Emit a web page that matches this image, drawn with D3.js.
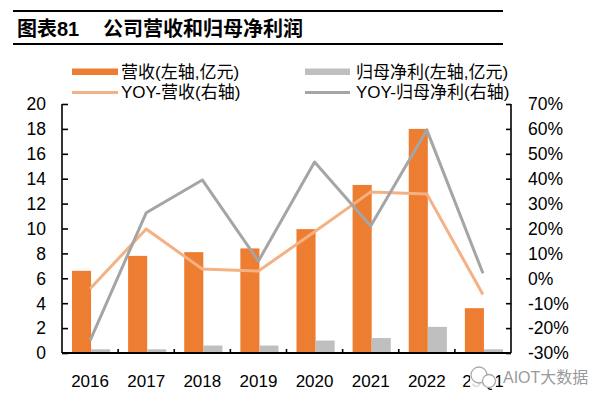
<!DOCTYPE html>
<html><head><meta charset="utf-8">
<script src="https://cdn.jsdelivr.net/npm/d3@7"></script>
<style>
html,body{margin:0;padding:0;background:#fff;}
svg{display:block;font-family:"Liberation Sans",Arial,"Noto Sans CJK SC",sans-serif;}
</style></head>
<body>
<svg id="c" width="601" height="403"></svg>
<script>
const categories = ['2016','2017','2018','2019','2020','2021','2022','23Q1'];
const revenue = [6.6, 7.8, 8.1, 8.4, 9.95, 13.5, 18.0, 3.6];
const netProfit = [0.3, 0.3, 0.6, 0.6, 1.0, 1.2, 2.1, 0.3];
const revenueYoy = [-4.2, 19.8, 3.7, 2.9, 18.7, 34.7, 33.9, -6.5];
const profitYoy = [-25.0, 26.3, 39.5, 6.9, 46.7, 21.0, 59.6, 2.0];
const leftTicks = [0,2,4,6,8,10,12,14,16,18,20];
const rightTicks = [-30,-20,-10,0,10,20,30,40,50,60,70];
const seriesNames = ['营收(左轴,亿元)','归母净利(左轴,亿元)','YOY-营收(右轴)','YOY-归母净利(右轴)'];
const colors = {rev:'#ED7D31', np:'#BFBFBF', revY:'#F4B183', npY:'#A5A5A5'};

const svg = d3.select('#c');
const L=62, R=511, T=104, B=353;
const x = d3.scaleBand().domain(categories).range([L,R]).padding(0);
const yL = d3.scaleLinear().domain([0,20]).range([B,T]);
const yR = d3.scaleLinear().domain([-30,70]).range([B,T]);
const cx = c => x(c) + x.bandwidth()/2;
const barW = x.bandwidth()*0.34;

// title
svg.append('line').attr('x1',13).attr('x2',503).attr('y1',11).attr('y2',11).attr('stroke','#000').attr('stroke-width',2.2);
svg.append('line').attr('x1',13).attr('x2',503).attr('y1',44).attr('y2',44).attr('stroke','#000').attr('stroke-width',2.2);
svg.append('text').attr('x',17).attr('y',36).attr('font-size',20).attr('font-weight','bold').text('图表81');
svg.append('text').attr('x',103).attr('y',36).attr('font-size',20).attr('font-weight','bold').text('公司营收和归母净利润');

// bars
svg.selectAll('.rev').data(categories).enter().append('rect')
  .attr('x',(c)=>cx(c)-barW+1).attr('width',barW)
  .attr('y',(c,i)=>yL(revenue[i])).attr('height',(c,i)=>yL(0)-yL(revenue[i]))
  .attr('fill',colors.rev);
svg.selectAll('.np').data(categories).enter().append('rect')
  .attr('x',(c)=>cx(c)+1).attr('width',barW)
  .attr('y',(c,i)=>yL(netProfit[i])).attr('height',(c,i)=>yL(0)-yL(netProfit[i]))
  .attr('fill',colors.np);

// lines
const line = (arr)=>d3.line().x((d,i)=>cx(categories[i])).y(d=>yR(d))(arr);
svg.append('path').attr('d',line(revenueYoy)).attr('fill','none').attr('stroke',colors.revY).attr('stroke-width',3).attr('stroke-linejoin','round');
svg.append('path').attr('d',line(profitYoy)).attr('fill','none').attr('stroke',colors.npY).attr('stroke-width',3).attr('stroke-linejoin','round');

// axes
const gl = svg.append('g').attr('transform',`translate(${L},0)`)
  .call(d3.axisRight(yL).tickValues(leftTicks).tickSize(6).tickFormat(''));
gl.selectAll('line,path').attr('stroke','#000').attr('stroke-width',1.6);
gl.select('.domain').attr('d',`M0,${T}V${B}`);
svg.selectAll('.lt').data(leftTicks).enter().append('text')
  .attr('x',46).attr('y',d=>yL(d)).attr('dy','0.36em').attr('text-anchor','end')
  .attr('font-size',17.5).text(d=>d);

const gr = svg.append('g').attr('transform',`translate(${R},0)`)
  .call(d3.axisLeft(yR).tickValues(rightTicks).tickSize(5).tickFormat(''));
gr.selectAll('line,path').attr('stroke','#000').attr('stroke-width',1.6);
gr.select('.domain').attr('d',`M0,${T}V${B}`);
svg.selectAll('.rt').data(rightTicks).enter().append('text')
  .attr('x',528).attr('y',d=>yR(d)).attr('dy','0.36em').attr('text-anchor','start')
  .attr('font-size',17.5).text(d=>d+'%');

const gx = svg.append('g').attr('transform',`translate(0,${B})`);
gx.append('line').attr('x1',L).attr('x2',R).attr('stroke','#000').attr('stroke-width',1.8);
gx.selectAll('.xt').data(categories.slice(1)).enter().append('line')
  .attr('x1',c=>x(c)).attr('x2',c=>x(c)).attr('y1',0).attr('y2',-4).attr('stroke','#000').attr('stroke-width',1.6);
gx.selectAll('.xl').data(categories).enter().append('text')
  .attr('x',c=>cx(c)).attr('y',34).attr('text-anchor','middle').attr('font-size',17).text(c=>c);

// legend
const lg = svg.append('g');
lg.append('rect').attr('x',72).attr('y',68.5).attr('width',46).attr('height',6.5).attr('fill',colors.rev);
lg.append('text').attr('x',121).attr('y',78).attr('font-size',17).text(seriesNames[0]);
lg.append('rect').attr('x',305).attr('y',68.5).attr('width',45).attr('height',6.5).attr('fill',colors.np);
lg.append('text').attr('x',356).attr('y',78).attr('font-size',17).text(seriesNames[1]);
lg.append('line').attr('x1',72).attr('x2',118).attr('y1',92.5).attr('y2',92.5).attr('stroke',colors.revY).attr('stroke-width',3);
lg.append('text').attr('x',121).attr('y',98).attr('font-size',17).text(seriesNames[2]);
lg.append('line').attr('x1',305).attr('x2',350).attr('y1',92.5).attr('y2',92.5).attr('stroke',colors.npY).attr('stroke-width',3);
lg.append('text').attr('x',356).attr('y',98).attr('font-size',17).text(seriesNames[3]);

// watermark
const wm = svg.append('g');
wm.append('rect').attr('x',470).attr('y',366).attr('width',26).attr('height',22).attr('fill','#fff').attr('opacity',0.85);
wm.append('circle').attr('cx',479).attr('cy',375).attr('r',8).attr('fill','#fff').attr('stroke','#aaa').attr('stroke-width',1.3);
wm.append('circle').attr('cx',489).attr('cy',381).attr('r',6.5).attr('fill','#fff').attr('stroke','#aaa').attr('stroke-width',1.3);
wm.append('text').attr('x',503).attr('y',383).attr('font-size',16).attr('fill','#9a9a9a')
  .attr('stroke','#fff').attr('stroke-width',2).attr('paint-order','stroke').text('AIOT大数据');
</script>
</body></html>
